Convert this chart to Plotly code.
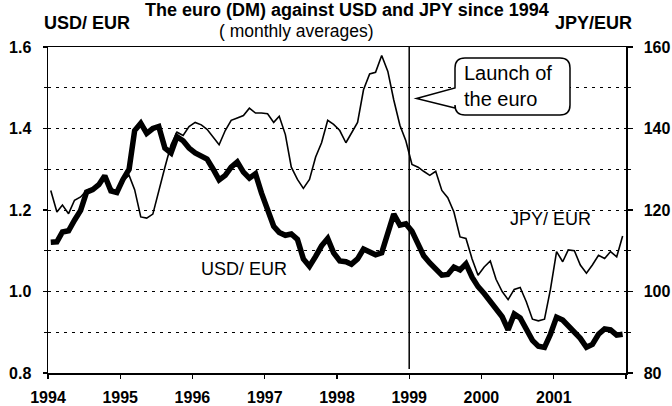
import pandas as pd
import plotly.graph_objects as go

# ---------------- data ----------------
start_month = "1994-01-01"
n_months = 96

usd_eur = [
    1.121, 1.122, 1.146, 1.149, 1.175, 1.199, 1.244, 1.250, 1.262, 1.284, 1.247, 1.243,
    1.275, 1.300, 1.395, 1.413, 1.388, 1.400, 1.405, 1.352, 1.340, 1.380, 1.370, 1.352,
    1.340, 1.333, 1.325, 1.300, 1.274, 1.285, 1.305, 1.318, 1.293, 1.278, 1.289, 1.242,
    1.201, 1.160, 1.145, 1.138, 1.141, 1.128, 1.080, 1.062, 1.086, 1.112, 1.130, 1.095,
    1.075, 1.073, 1.067, 1.080, 1.104, 1.096, 1.090, 1.095, 1.140, 1.190, 1.163, 1.166,
    1.148, 1.112, 1.088, 1.070, 1.055, 1.040, 1.042, 1.060, 1.053, 1.068, 1.035, 1.012,
    0.995, 0.977, 0.957, 0.938, 0.906, 0.945, 0.935, 0.905, 0.880, 0.866, 0.863, 0.895,
    0.937, 0.930, 0.916, 0.900, 0.885, 0.863, 0.870, 0.895, 0.908, 0.906, 0.893, 0.895,
]

jpy_eur = [
    124.8, 119.5, 121.2, 119.1, 122.4, 123.2, 124.8, 125.5, 126.0, 128.0, 125.5, 124.4,
    127.3, 128.5, 125.0, 118.3, 118.0, 119.0, 125.0, 130.5, 136.0, 139.1, 138.3, 140.5,
    141.5, 140.9, 139.8, 138.0, 136.0, 139.5, 142.0, 142.6, 143.2, 145.0, 143.8, 143.8,
    143.6, 141.5, 143.0, 138.5, 130.5, 127.5, 125.3, 127.5, 133.0, 136.5, 142.0, 141.0,
    139.5, 136.5, 138.8, 141.5, 149.5, 153.4, 153.8, 157.9, 154.0, 147.0, 140.8, 137.0,
    131.2, 130.5, 129.5, 128.5, 129.5, 124.8, 123.0, 119.5, 113.4, 113.0, 108.0, 104.0,
    106.0, 107.5, 103.0, 100.0, 98.0, 100.5, 101.0, 97.5, 93.2, 92.8, 93.2, 100.5,
    109.8, 107.3, 110.2, 110.0, 106.5, 104.5, 106.5, 108.9, 108.1, 109.8, 108.5, 113.6,
]

year_ticks = ["1994", "1995", "1996", "1997", "1998", "1999", "2000", "2001", "2002"]
year_labels = ["1994", "1995", "1996", "1997", "1998", "1999", "2000", "2001", ""]
euro_launch = "1999-01-01"

# monthly averages plotted at mid-month
months = pd.date_range(start_month, periods=n_months, freq="MS") + pd.Timedelta(days=14)
tick_dates = [f"{y}-01-01" for y in year_ticks]

# ---------------- geometry helpers (page pixels -> paper) ----------------
W, H = 672, 406
L, R, T, B = 48, 46, 47, 33
PW, PH = W - L - R, H - T - B


def px(x):
    return (x - L) / PW


def py(y):
    return (H - B - y) / PH


FONT = "Liberation Sans"
TICKFONT = dict(family=FONT, size=16, weight="bold", color="black")

fig = go.Figure()
fig.add_trace(go.Scatter(
    x=months, y=jpy_eur, yaxis="y", mode="lines", name="JPY/EUR",
    line=dict(color="black", width=1.6), hoverinfo="skip", showlegend=False,
))
fig.add_trace(go.Scatter(
    x=months, y=usd_eur, yaxis="y2", mode="lines", name="USD/EUR",
    line=dict(color="black", width=5.5), hoverinfo="skip", showlegend=False,
))

grid_dash = "3px,5px"
fig.update_layout(
    template="none",
    width=W, height=H,
    margin=dict(l=L, r=R, t=T, b=B, pad=0, autoexpand=False),
    paper_bgcolor="white", plot_bgcolor="white",
    font=dict(family=FONT, color="black"),
    showlegend=False,
    xaxis=dict(
        type="date", range=["1994-01-01", "2002-01-01"], automargin=False,
        tickmode="array", tickvals=tick_dates, ticktext=year_labels,
        showline=True, linecolor="black", linewidth=1.5, mirror=True,
        ticks="outside", ticklen=4, tickwidth=1.2, tickcolor="black",
        showgrid=False, zeroline=False,
        tickfont=TICKFONT, ticklabelstandoff=5,
    ),
    yaxis=dict(
        range=[80, 160], side="right", dtick=20, tick0=80, automargin=False,
        showline=True, linecolor="black", linewidth=1.5,
        ticks="outside", ticklen=5, tickwidth=1.2, tickcolor="black",
        showgrid=True, gridcolor="black", gridwidth=1, griddash=grid_dash,
        minor=dict(dtick=10, tick0=80, showgrid=True, gridcolor="black", gridwidth=1,
                   griddash=grid_dash, ticks="outside", ticklen=3, tickcolor="black"),
        zeroline=False,
        tickfont=TICKFONT, ticklabelstandoff=8,
    ),
    yaxis2=dict(
        range=[0.8, 1.6], overlaying="y", side="left", dtick=0.2, tick0=0.8,
        tickformat=".1f", automargin=False,
        showline=True, linecolor="black", linewidth=1.5,
        ticks="outside", ticklen=4, tickwidth=1.2, tickcolor="black",
        showgrid=False, zeroline=False,
        minor=dict(dtick=0.1, tick0=0.8, ticks="outside", ticklen=3, tickcolor="black"),
        tickfont=TICKFONT, ticklabelstandoff=8,
    ),
)

# vertical line: launch of the euro
fig.add_shape(type="line", xref="x", yref="paper", x0=euro_launch, x1=euro_launch,
              y0=py(369), y1=1, line=dict(color="black", width=1.5), layer="above")

# speech bubble
bx0, bx1, by0, by1, rr = 455, 570, 58, 115, 10
tipx, tipy = 416.5, 98.5
wy0, wy1 = 88, 108
pts = [
    ("M", bx0 + rr, by0),
    ("L", bx1 - rr, by0),
    ("Q", bx1, by0, bx1, by0 + rr),
    ("L", bx1, by1 - rr),
    ("Q", bx1, by1, bx1 - rr, by1),
    ("L", bx0 + rr, by1),
    ("Q", bx0, by1, bx0, by1 - rr),
    ("L", bx0, wy1),
    ("L", tipx, tipy),
    ("L", bx0, wy0),
    ("L", bx0, by0 + rr),
    ("Q", bx0, by0, bx0 + rr, by0),
]
path = ""
for p in pts:
    cmd, coords = p[0], p[1:]
    xy = []
    for i in range(0, len(coords), 2):
        xy.append(f"{px(coords[i]):.5f},{py(coords[i + 1]):.5f}")
    path += cmd + " " + " ".join(xy) + " "
path += "Z"
fig.add_shape(type="path", xref="paper", yref="paper", path=path,
              fillcolor="white", line=dict(color="black", width=1.5), layer="above")


def ann(text, x, y, size, bold=False, xanchor="center", yanchor="middle", align="center"):
    fig.add_annotation(
        text=text, xref="paper", yref="paper", x=px(x), y=py(y),
        xanchor=xanchor, yanchor=yanchor, align=align, showarrow=False,
        font=dict(family=FONT, size=size, color="black", weight="bold" if bold else "normal"),
    )


ann("The euro (DM) against USD and JPY since 1994", 347, 9.5, 18, bold=True)
ann("USD/ EUR", 86.5, 23, 18, bold=True)
ann("( monthly averages)", 296, 31, 17.5)
ann("JPY/EUR", 593, 23, 18, bold=True)
ann("USD/ EUR", 243.5, 269, 18)
ann("JPY/ EUR", 550.5, 218.5, 18)
ann("Launch of<br>the euro", 462, 86, 20, xanchor="left", align="left")

# the page body has a default 8px margin; remove it so the figure fills the window
fig.write_html(
    "out.html",
    config={"displayModeBar": False, "staticPlot": True},
    post_script="document.body.style.margin='0';",
)
